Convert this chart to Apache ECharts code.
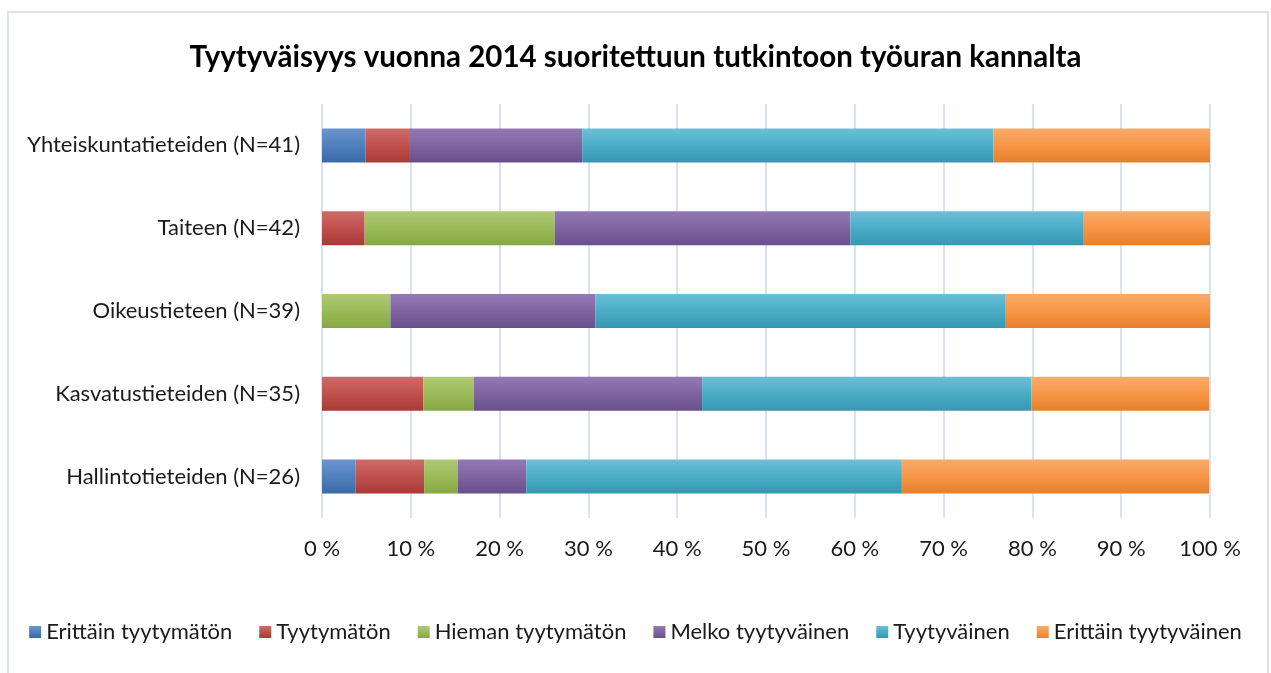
<!DOCTYPE html>
<html>
<head>
<meta charset="utf-8">
<script src="https://cdn.jsdelivr.net/npm/echarts@6/dist/echarts.min.js"></script>
<style>
  html, body { margin: 0; padding: 0; background: #fff; }
  #chart { width: 1271px; height: 673px; }
</style>
</head>
<body>
<div id="chart"></div>
<script>
// categories, bottom to top
const categories = [
  'Hallintotieteiden (N=26)',
  'Kasvatustieteiden (N=35)',
  'Oikeustieteen (N=39)',
  'Taiteen (N=42)',
  'Yhteiskuntatieteiden (N=41)'
];

// percent shares per answer, same order as categories
const erittainTyytymaton = [3.8, 0, 0, 0, 4.9];
const tyytymaton = [7.7, 11.4, 0, 4.8, 4.9];
const hiemanTyytymaton = [3.8, 5.7, 7.7, 21.4, 0];
const melkoTyytyvainen = [7.7, 25.7, 23.1, 33.3, 19.5];
const tyytyvainen = [42.3, 37.1, 46.2, 26.2, 46.3];
const erittainTyytyvainen = [34.6, 20.0, 23.1, 14.3, 24.4];

const xTicks = [0, 10, 20, 30, 40, 50, 60, 70, 80, 90, 100];

// office-like colours: light top, base, dark bottom
const palette = [
  ['#6b94cd', '#4f81bd', '#3b6aa6'],
  ['#cd6c69', '#c0504d', '#aa3a37'],
  ['#aec977', '#9bbb59', '#86a844'],
  ['#9279b4', '#8064a2', '#6a4f8d'],
  ['#6cbfd6', '#4bacc6', '#3597b1'],
  ['#f9ab6a', '#f79646', '#e5802c']
];

function grad(c) {
  return new echarts.graphic.LinearGradient(0, 0, 0, 1, [
    { offset: 0, color: c[0] },
    { offset: 0.5, color: c[1] },
    { offset: 1, color: c[2] }
  ]);
}

const seriesDefs = [
  ['Erittäin tyytymätön', erittainTyytymaton],
  ['Tyytymätön', tyytymaton],
  ['Hieman tyytymätön', hiemanTyytymaton],
  ['Melko tyytyväinen', melkoTyytyvainen],
  ['Tyytyväinen', tyytyvainen],
  ['Erittäin tyytyväinen', erittainTyytyvainen]
];

const font = 'Lato, "Open Sans", sans-serif';

const chart = echarts.init(document.getElementById('chart'));
chart.setOption({
  animation: false,
  textStyle: { fontFamily: font },
  title: {
    text: 'Tyytyväisyys vuonna 2014 suoritettuun tutkintoon työuran kannalta',
    left: 'center',
    top: 37,
    textStyle: { fontFamily: font, fontSize: 29.5, fontWeight: 'bold', color: '#000' }
  },
  graphic: [{
    type: 'rect',
    shape: { x: 8, y: 12, width: 1260, height: 700 },
    style: { fill: 'none', stroke: '#d9e2f3', lineWidth: 2 },
    silent: true
  }],
  legend: {
    left: 'center',
    top: 616,
    icon: 'rect',
    itemWidth: 12,
    itemHeight: 12,
    itemGap: 27,
    textStyle: { fontFamily: font, fontSize: 22, color: '#1a1a1a' },
    data: seriesDefs.map(d => d[0])
  },
  grid: { left: 322, right: 61, top: 104, bottom: 155 },
  xAxis: {
    type: 'value',
    min: xTicks[0],
    max: xTicks[xTicks.length - 1],
    interval: xTicks[1] - xTicks[0],
    axisLine: { show: false },
    axisTick: { show: false },
    axisLabel: { formatter: '{value} %', fontSize: 22, color: '#1a1a1a', margin: 20, fontFamily: font },
    splitLine: { lineStyle: { color: '#d9e2f3', width: 2 } }
  },
  yAxis: {
    type: 'category',
    data: categories,
    axisLine: { show: false },
    axisTick: { show: false },
    axisLabel: { fontSize: 22, color: '#1a1a1a', margin: 22, fontFamily: font }
  },
  series: seriesDefs.map((d, i) => ({
    name: d[0],
    type: 'bar',
    stack: 'total',
    barWidth: 34,
    data: d[1],
    itemStyle: { color: grad(palette[i]) }
  }))
});
</script>
</body>
</html>
